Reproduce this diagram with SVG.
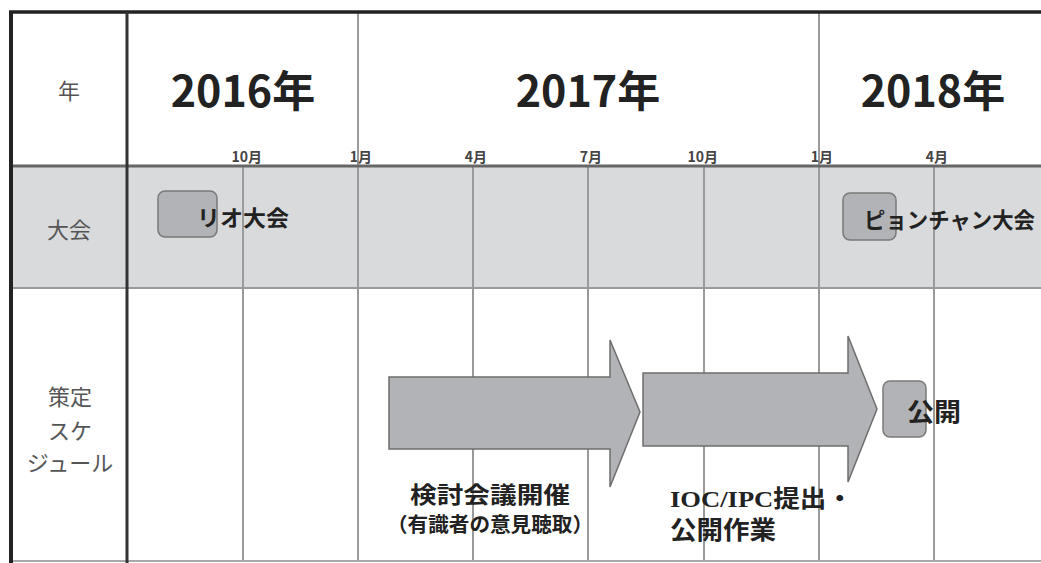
<svg xmlns="http://www.w3.org/2000/svg" width="1041" height="563" viewBox="0 0 1041 563">
<style>
.grid{stroke:#9a9a9a;stroke-width:2;fill:none}
.lab{font-family:"Noto Sans CJK JP","Noto Sans",sans-serif;fill:#555;font-size:22px;text-anchor:middle}
.year{font-family:"Noto Sans CJK JP","Noto Sans",sans-serif;fill:#222;font-size:43px;font-weight:bold;text-anchor:middle}
.mon{font-family:"Noto Sans CJK JP","Noto Sans",sans-serif;fill:#444;font-size:14px;font-weight:bold;text-anchor:end}
.bt{font-family:"Noto Sans CJK JP","Noto Sans",sans-serif;fill:#222;font-weight:bold}
.box{fill:#b2b3b6;stroke:#7a7a7a;stroke-width:1.5}
.arrow{fill:#b2b3b6;stroke:#6e6e6e;stroke-width:1.5}
</style>
<rect x="0" y="0" width="1041" height="563" fill="#ffffff"/>
<rect x="11" y="166" width="1030" height="122" fill="#d9dadc"/>
<g id="grid">
<line class="grid" x1="243" y1="166" x2="243" y2="561"/>
<line class="grid" x1="358" y1="13" x2="358" y2="561"/>
<line class="grid" x1="473" y1="166" x2="473" y2="561"/>
<line class="grid" x1="588" y1="166" x2="588" y2="561"/>
<line class="grid" x1="704" y1="166" x2="704" y2="561"/>
<line class="grid" x1="819" y1="13" x2="819" y2="561"/>
<line class="grid" x1="934" y1="166" x2="934" y2="561"/>
<line x1="11" y1="288" x2="1041" y2="288" stroke="#9a9a9a" stroke-width="2"/>
<line x1="11" y1="561" x2="1041" y2="561" stroke="#a8a8a8" stroke-width="2"/>
<line x1="11" y1="166" x2="1041" y2="166" stroke="#666" stroke-width="3"/>
<line x1="9" y1="12" x2="1041" y2="12" stroke="#222" stroke-width="3.5"/>
<line x1="11" y1="11" x2="11" y2="563" stroke="#222" stroke-width="4"/>
<line x1="127" y1="12" x2="127" y2="563" stroke="#333" stroke-width="3"/>
</g>
<g id="row-labels">
<text class="lab" x="69" y="99">年</text>
<text class="lab" x="69" y="238">大会</text>
<text class="lab" x="70" y="405">策定</text>
<text class="lab" x="70" y="439">スケ</text>
<text class="lab" x="70" y="471">ジュール</text>
</g>
<g id="years">
<text class="year" x="243" y="107">2016年</text>
<text class="year" x="588" y="107">2017年</text>
<text class="year" x="933" y="107">2018年</text>
</g>
<g id="months">
<text class="mon" x="262" y="162">10月</text>
<text class="mon" x="372" y="162">1月</text>
<text class="mon" x="487" y="162">4月</text>
<text class="mon" x="602" y="162">7月</text>
<text class="mon" x="718" y="162">10月</text>
<text class="mon" x="833" y="162">1月</text>
<text class="mon" x="948" y="162">4月</text>
</g>
<g id="rio">
<rect class="box" x="158" y="191" width="59" height="46" rx="7"/>
<text class="bt" x="197" y="226" font-size="22" textLength="92" lengthAdjust="spacingAndGlyphs">リオ大会</text>
</g>
<g id="pyeongchang">
<rect class="box" x="843" y="193" width="53" height="47" rx="7"/>
<text class="bt" x="864" y="228" font-size="22" textLength="171" lengthAdjust="spacingAndGlyphs">ピョンチャン大会</text>
</g>
<g id="connectors">
<polygon class="arrow" points="389,377 610,377 610,340 640,412 610,487 610,449 389,449"/>
<polygon class="arrow" points="643,373 848,373 848,336 877,409 848,482 848,446 643,446"/>
</g>
<g id="publish">
<rect class="box" x="883" y="381" width="43" height="56" rx="7"/>
<text class="bt" x="907" y="421" font-size="25" textLength="54" lengthAdjust="spacingAndGlyphs">公開</text>
</g>
<g id="review-label">
<text class="bt" x="490" y="503" font-size="23" text-anchor="middle" textLength="160" lengthAdjust="spacingAndGlyphs">検討会議開催</text>
<text class="bt" x="490" y="532" font-size="20" text-anchor="middle" textLength="206" lengthAdjust="spacingAndGlyphs">（有識者の意見聴取）</text>
</g>
<g id="ioc-label">
<text class="bt" x="670" y="507" font-size="24" textLength="183" lengthAdjust="spacingAndGlyphs"><tspan font-family="Liberation Serif,serif">IOC/IPC</tspan>提出・</text>
<text class="bt" x="670" y="539" font-size="25" textLength="106" lengthAdjust="spacingAndGlyphs">公開作業</text>
</g>
</svg>
